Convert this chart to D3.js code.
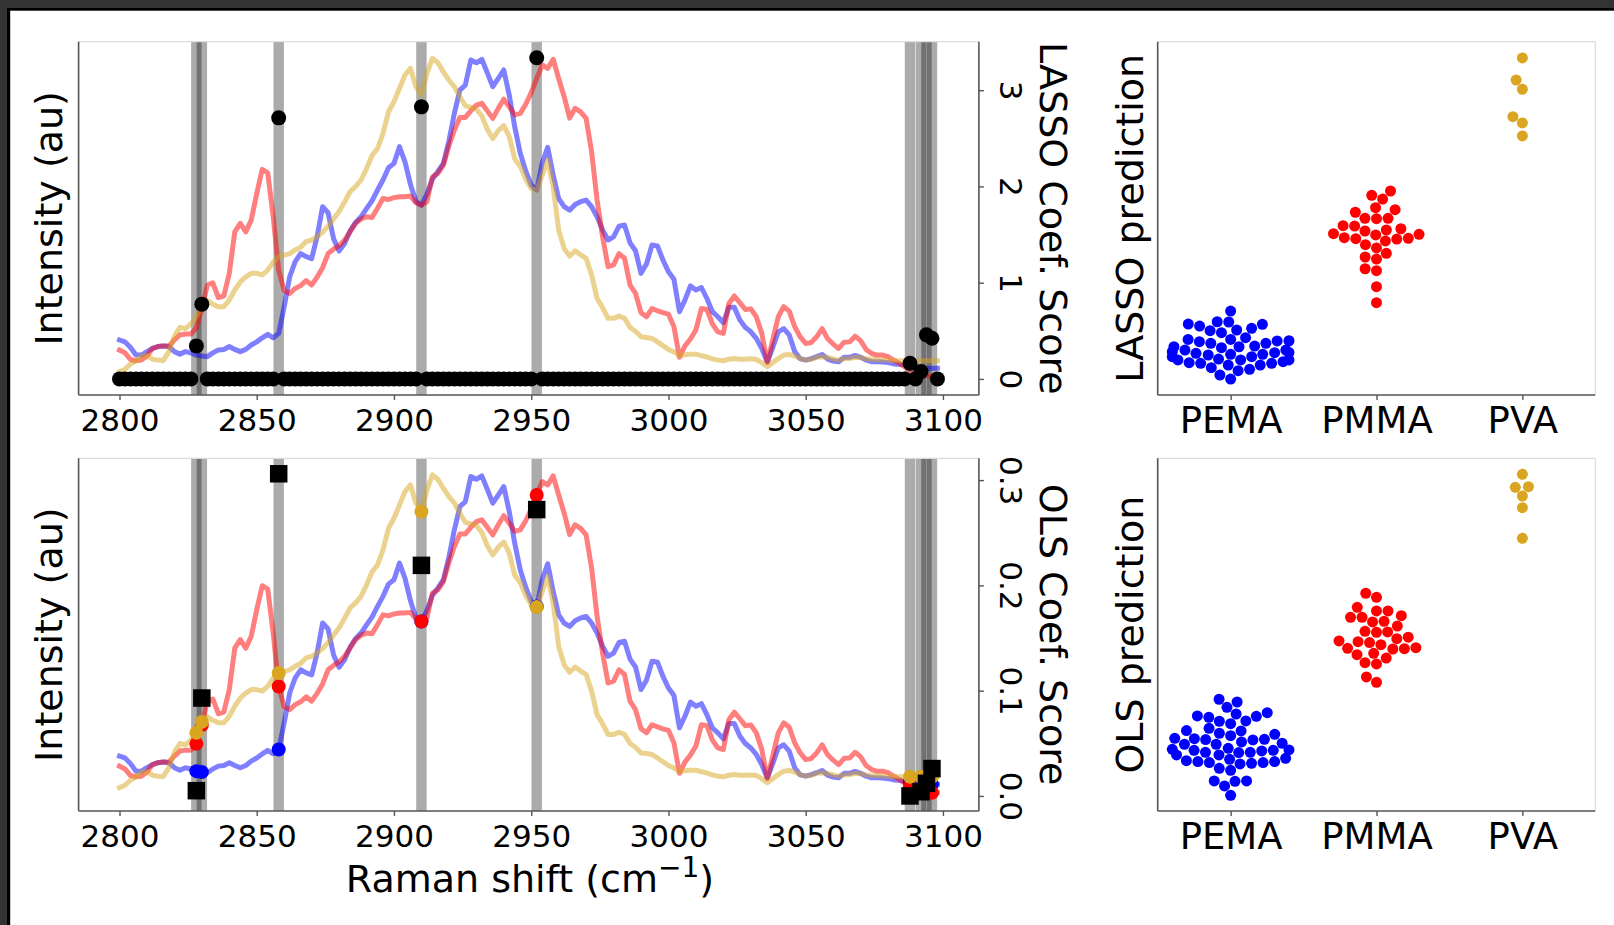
<!DOCTYPE html>
<html>
<head>
<meta charset="utf-8">
<script src="https://cdn.jsdelivr.net/npm/d3@7"></script>
<style>
  body { margin: 0; background: #fff; }
  svg { display: block; }
  text { font-family: "DejaVu Sans", sans-serif; fill: #000; }
</style>
</head>
<body>
<svg id="fig" width="1614" height="925"></svg>
<script>
// ---- Raman spectra (mean, arbitrary intensity units) ----
const wavenumber = [
  2800,2802,2804,2806,2808,2810,2812,2814,2816,2818,
  2820,2822,2824,2826,2828,2830,2832,2834,2836,2838,
  2840,2842,2844,2846,2848,2850,2852,2854,2856,2858,
  2860,2862,2864,2866,2868,2870,2872,2874,2876,2878,
  2880,2882,2884,2886,2888,2890,2892,2894,2896,2898,
  2900,2902,2904,2906,2908,2910,2912,2914,2916,2918,
  2920,2922,2924,2926,2928,2930,2932,2934,2936,2938,
  2940,2942,2944,2946,2948,2950,2952,2954,2956,2958,
  2960,2962,2964,2966,2968,2970,2972,2974,2976,2978,
  2980,2982,2984,2986,2988,2990,2992,2994,2996,2998,
  3000,3002,3004,3006,3008,3010,3012,3014,3016,3018,
  3020,3022,3024,3026,3028,3030,3032,3034,3036,3038,
  3040,3042,3044,3046,3048,3050,3052,3054,3056,3058,
  3060,3062,3064,3066,3068,3070,3072,3074,3076,3078,
  3080,3082,3084,3086,3088,3090,3092,3094,3096,3098
];
const pemaSpectrum = [
  10.1,9.5,7.7,5.3,5.3,6.4,7.4,8.0,8.2,8.0,
  6.4,5.6,6.4,6.0,5.3,5.0,4.8,6.0,6.9,7.1,
  8.0,7.1,6.4,7.1,8.5,9.5,10.8,11.9,10.8,12.2,
  20.7,30.2,35.0,37.6,36.6,36.0,43.0,52.5,50.6,42.3,
  38.4,40.8,44.8,47.5,49.3,51.9,54.4,57.8,61.0,64.9,
  66.3,71.6,66.8,59.6,54.2,53.0,56.5,61.3,63.7,66.3,
  73.4,82.2,89.6,91.2,99.2,98.3,99.4,95.1,90.7,93.3,
  96.0,88.0,77.9,69.5,63.9,59.4,57.8,66.3,71.4,62.6,
  55.1,52.5,51.4,53.2,54.1,54.6,52.5,49.3,45.1,41.9,
  42.9,46.3,46.7,41.0,38.5,31.3,34.3,40.3,40.0,35.5,
  31.8,29.4,19.1,22.8,27.3,26.0,26.8,23.3,19.1,17.5,
  15.6,20.5,20.5,16.5,14.1,12.7,10.6,7.4,3.1,7.7,
  12.7,13.7,11.7,6.4,4.1,3.7,4.2,4.8,5.5,4.0,
  3.4,3.2,4.6,4.6,5.2,4.6,3.7,3.2,3.2,3.1,
  2.9,2.5,2.4,2.1,1.8,1.5,1.2,1.1,1.1,1.1
];
const pmmaSpectrum = [
  6.9,6.0,3.9,3.5,3.7,5.0,7.4,8.0,8.2,8.2,
  10.1,11.7,12.0,12.0,14.0,20.0,27.6,28.3,23.6,24.1,
  31.3,44.5,47.2,44.5,48.3,56.7,64.4,63.3,49.3,32.3,
  25.8,24.9,26.5,27.4,29.0,27.6,30.1,33.1,37.6,39.0,
  40.1,41.9,44.5,47.2,48.6,49.3,49.1,52.0,55.1,54.8,
  55.4,55.7,55.7,55.9,53.8,53.0,54.1,62.0,63.1,65.7,
  71.8,76.9,80.9,80.9,83.0,84.8,85.4,83.0,80.6,83.8,
  86.7,84.3,81.7,82.2,85.1,88.8,93.3,97.6,96.5,99.4,
  93.3,87.5,80.7,83.8,82.7,80.6,70.0,54.6,42.9,33.4,
  34.0,37.6,36.1,27.6,24.9,18.8,17.5,20.1,19.4,18.8,
  18.3,14.3,4.6,8.2,10.4,13.3,20.1,19.8,15.2,12.7,
  12.2,21.7,24.1,22.0,19.8,20.0,17.5,12.2,2.9,10.1,
  17.5,20.7,19.3,14.3,11.1,9.0,9.3,11.1,13.7,10.5,
  8.8,7.4,9.4,9.5,11.3,9.9,7.1,5.8,5.3,5.3,
  4.8,3.7,2.7,1.6,0.5,0.0,-0.6,-1.2,-1.6,-1.6
];
const pvaSpectrum = [
  0.0,0.8,2.4,3.5,5.0,5.1,4.0,3.7,3.6,6.4,
  11.3,14.1,13.7,15.2,17.5,21.0,22.6,21.5,20.7,20.7,
  22.8,26.0,28.6,30.2,31.3,31.3,30.8,32.3,34.9,36.6,
  37.1,37.6,38.7,39.6,41.4,41.9,42.9,44.4,46.3,48.6,
  51.0,54.0,57.3,58.9,61.0,64.6,68.8,71.0,75.8,82.7,
  85.9,90.1,94.4,96.5,90.7,88.0,94.9,99.7,98.3,95.4,
  92.8,90.7,87.5,84.6,84.1,83.6,81.4,77.1,74.2,76.7,
  78.3,74.8,67.7,65.4,61.3,58.3,57.6,62.6,67.3,58.9,
  45.1,39.2,36.8,38.5,37.2,36.1,30.8,23.3,20.4,17.0,
  17.0,17.7,17.0,14.1,12.9,11.1,10.9,10.6,9.5,8.3,
  7.1,6.3,5.2,5.4,5.6,5.6,5.1,4.7,4.1,3.7,
  3.5,4.0,4.2,4.0,4.0,4.1,3.9,2.9,1.6,2.9,
  4.2,5.3,5.5,5.0,4.2,3.8,3.9,4.6,4.8,4.6,
  4.1,3.7,4.1,4.2,4.6,4.5,4.1,3.9,3.9,3.8,
  3.7,3.6,3.5,3.5,3.5,3.5,3.5,3.5,3.5,3.5
];

// ---- selected features and their regression coefficients ----
const selectedShift = [2828, 2830, 2858, 2910, 2952, 3088, 3092, 3094, 3096];
const lassoCoef     = [0.343, 0.777, 2.713, 2.827, 3.337, 0.163, 0.076, 0.458, 0.423];
const olsCoef       = [0.005, 0.093, 0.306, 0.219, 0.272, 0.000, 0.004, 0.012, 0.026];

// ---- per-sample predictions ----
const categories = ["PEMA", "PMMA", "PVA"];
const lassoPredPEMA = [0.345,0.250,0.230,0.248,0.227,0.212,0.177,0.192,0.171,0.153,0.109,0.082,0.074,0.094,0.080,0.094,0.035,0.021,0.029,-0.015,-0.038,-0.021,-0.038,-0.024,0.029,-0.029,-0.088,-0.112,-0.118,-0.088,-0.156,-0.133,-0.080,-0.133,-0.118,-0.103,-0.221,-0.183,-0.171,-0.257,-0.044,0.059,0.000,-0.059,0.059,0.000,-0.059,-0.088];
const lassoPredPMMA = [1.407,1.336,1.369,1.259,1.219,1.242,1.165,1.162,1.165,1.100,1.073,1.053,1.097,1.062,1.024,0.988,0.982,0.965,1.018,0.985,0.994,1.029,0.932,0.856,0.805,0.903,0.823,0.719,0.702,0.560,0.419];
const lassoPredPVA  = [2.584,2.389,2.307,2.065,2.009,1.894];
const olsPredPEMA = [0.461,0.436,0.388,0.339,0.309,0.327,0.306,0.297,0.261,0.264,0.239,0.197,0.173,0.176,0.152,0.142,0.130,0.097,0.094,0.103,0.073,0.052,0.061,0.015,0.052,-0.003,-0.009,-0.021,-0.024,-0.021,-0.003,-0.045,-0.045,-0.097,-0.106,-0.115,-0.127,-0.076,-0.121,-0.115,-0.106,-0.085,-0.185,-0.167,-0.282,-0.285,-0.282,-0.327,-0.412,0.106,0.006,0.091,0.000];
const olsPredPMMA = [1.425,1.388,1.297,1.264,1.264,1.206,1.206,1.221,1.164,1.170,1.127,1.073,1.070,1.079,1.025,1.012,0.991,0.976,0.985,0.957,0.930,0.921,0.918,0.924,0.866,0.879,0.836,0.794,0.782,0.664,0.615];
const olsPredPVA  = [2.506,2.394,2.388,2.309,2.203,1.924];

// ---- ticks ----
const shiftTicks = [2800, 2850, 2900, 2950, 3000, 3050, 3100];
const lassoTicks = [0, 1, 2, 3];
const olsTicks = [0.0, 0.1, 0.2, 0.3];

// ---- styling ----
const seriesColor = { PEMA: "#0000ff", PMMA: "#ff0000", PVA: "#daa520" };
const spineDark = "#555", spineLight = "#dcdcdc";
const TICK_FS = 31, LABEL_FS = 38, CAT_FS = 37;

const svg = d3.select("#fig");

// window frame
svg.append("rect").attr("x", 0).attr("y", 0).attr("width", 1614).attr("height", 8).attr("fill", "#333");
svg.append("rect").attr("x", 0).attr("y", 8).attr("width", 1614).attr("height", 2.7).attr("fill", "#000");
svg.append("rect").attr("x", 0).attr("y", 0).attr("width", 7).attr("height", 925).attr("fill", "#333");
svg.append("rect").attr("x", 7).attr("y", 8).attr("width", 3.2).attr("height", 917).attr("fill", "#000");

const specX = [78.6, 978.9];
const swarmX = [1157.7, 1595.3];
const rowTop = [41.7, 395];
const rowBot = [458.3, 811];

function spines(g, x0, x1, y0, y1, rightDark) {
  g.append("line").attr("x1", x0).attr("x2", x1).attr("y1", y0).attr("y2", y0)
    .attr("stroke", spineLight).attr("stroke-width", 1.2);
  g.append("line").attr("x1", x1).attr("x2", x1).attr("y1", y0).attr("y2", y1)
    .attr("stroke", rightDark ? spineDark : spineLight).attr("stroke-width", rightDark ? 1.6 : 1.2);
  g.append("line").attr("x1", x0).attr("x2", x0).attr("y1", y0).attr("y2", y1)
    .attr("stroke", spineDark).attr("stroke-width", 1.6);
  g.append("line").attr("x1", x0).attr("x2", x1).attr("y1", y1).attr("y2", y1)
    .attr("stroke", spineDark).attr("stroke-width", 1.6);
}

function styleAxis(ax, fs) {
  ax.attr("font-family", null).attr("font-size", null);
  ax.select(".domain").remove();
  ax.selectAll(".tick line").attr("stroke", spineDark).attr("stroke-width", 1.4);
  ax.selectAll(".tick text").attr("font-size", fs).attr("fill", "#000");
}

function spectrumPanel(rows, model) {
  const g = svg.append("g");
  const x = d3.scaleLinear().domain([2785.1, 3113.1]).range(specX);
  const yI = d3.scaleLinear().domain([-7.4, 105]).range([rows[1], rows[0]]);
  const yC = model === "LASSO"
    ? d3.scaleLinear().domain([-0.167, 3.504]).range([rows[1], rows[0]])
    : d3.scaleLinear().domain([-0.0143, 0.3207]).range([rows[1], rows[0]]);

  const clipId = "clip-" + model;
  g.append("clipPath").attr("id", clipId).append("rect")
    .attr("x", specX[0]).attr("y", rows[0]).attr("width", specX[1] - specX[0]).attr("height", rows[1] - rows[0]);
  const plot = g.append("g").attr("clip-path", `url(#${clipId})`);

  // shaded bands marking the selected shifts
  plot.selectAll("rect.band").data(selectedShift).join("rect").attr("class", "band")
    .attr("x", d => x(d - 1.9)).attr("width", d => x(d + 1.9) - x(d - 1.9))
    .attr("y", rows[0]).attr("height", rows[1] - rows[0])
    .attr("fill", "#000").attr("fill-opacity", 0.33);

  const spectra = [
    { name: "PEMA", values: pemaSpectrum },
    { name: "PMMA", values: pmmaSpectrum },
    { name: "PVA", values: pvaSpectrum }
  ];
  const line = d3.line().x((d, i) => x(wavenumber[i])).y(d => yI(d));
  plot.selectAll("path.spec").data(spectra).join("path").attr("class", "spec")
    .attr("d", d => line(d.values))
    .attr("fill", "none").attr("stroke", d => seriesColor[d.name])
    .attr("stroke-opacity", 0.5).attr("stroke-width", 5)
    .attr("stroke-linejoin", "round").attr("stroke-linecap", "square");

  if (model === "LASSO") {
    const coefAt = wavenumber.map(w => {
      const k = selectedShift.indexOf(w);
      return k >= 0 ? lassoCoef[k] : 0;
    });
    g.selectAll("circle.coef").data(wavenumber).join("circle").attr("class", "coef")
      .attr("cx", d => x(d)).attr("cy", (d, i) => yC(coefAt[i])).attr("r", 7.5).attr("fill", "#000");
  } else {
    const idx = selectedShift.map(w => wavenumber.indexOf(w));
    [["PEMA", pemaSpectrum], ["PMMA", pmmaSpectrum], ["PVA", pvaSpectrum]].forEach(([name, vals]) => {
      g.selectAll(null).data(idx).join("circle")
        .attr("cx", i => x(wavenumber[i])).attr("cy", i => yI(vals[i]))
        .attr("r", 7).attr("fill", seriesColor[name]);
    });
    const s = 17.5;
    g.selectAll("rect.coef").data(selectedShift).join("rect").attr("class", "coef")
      .attr("x", d => x(d) - s / 2).attr("y", (d, i) => yC(olsCoef[i]) - s / 2)
      .attr("width", s).attr("height", s).attr("fill", "#000");
  }

  spines(g, specX[0], specX[1], rows[0], rows[1], true);

  const ax = g.append("g").attr("transform", `translate(0,${rows[1]})`)
    .call(d3.axisBottom(x).tickValues(shiftTicks).tickSize(5).tickPadding(8.5).tickFormat(d3.format("d")));
  styleAxis(ax, TICK_FS);

  const ar = g.append("g").attr("transform", `translate(${specX[1]},0)`)
    .call(d3.axisRight(yC).tickValues(model === "LASSO" ? lassoTicks : olsTicks).tickSize(5)
      .tickFormat(model === "LASSO" ? d3.format("d") : d3.format(".1f")));
  styleAxis(ar, TICK_FS);
  ar.selectAll(".tick text").attr("x", null).attr("dy", null)
    .attr("text-anchor", "middle").attr("transform", "translate(20.6,0) rotate(90)");

  const cy = (rows[0] + rows[1]) / 2;
  g.append("text").attr("transform", `translate(62,${cy}) rotate(-90)`)
    .attr("text-anchor", "middle").attr("font-size", LABEL_FS).text("Intensity (au)");
  g.append("text").attr("transform", `translate(1040,${cy}) rotate(90)`)
    .attr("text-anchor", "middle").attr("font-size", LABEL_FS).text(model + " Coef. Score");
  return x;
}

spectrumPanel(rowTop, "LASSO");
spectrumPanel(rowBot, "OLS");

// x label under the lower spectrum panel
const xl = svg.append("text").attr("x", 530).attr("y", 892).attr("text-anchor", "middle").attr("font-size", LABEL_FS);
xl.append("tspan").text("Raman shift (cm");
xl.append("tspan").attr("dy", -15).attr("font-size", 28).text("\u22121");
xl.append("tspan").attr("dy", 15).text(")");

// ---- swarm panels ----
function beeswarm(values, cx, yScale, r, half) {
  const pts = values.map(v => ({ v, y: yScale(v), x: cx })).sort((a, b) => a.v - b.v);
  const placed = [];
  for (const p of pts) {
    const nb = placed.filter(q => Math.abs(p.y - q.y) < 2 * r);
    const cand = [cx];
    for (const q of nb) {
      const dy = p.y - q.y;
      const dx = Math.sqrt(Math.max(4 * r * r - dy * dy, 0)) * 1.05;
      cand.push(q.x - dx, q.x + dx);
    }
    cand.sort((a, b) => Math.abs(a - cx) - Math.abs(b - cx));
    const ok = cand.find(c => nb.every(q => (c - q.x) ** 2 + (p.y - q.y) ** 2 >= 4 * r * r - 1e-6));
    p.x = ok === undefined ? cx : ok;
    placed.push(p);
  }
  placed.forEach(p => {
    if (p.x < cx - half) p.x = cx - half;
    if (p.x > cx + half) p.x = cx + half;
  });
  return placed;
}

function swarmPanel(rows, domain, groups, label) {
  const g = svg.append("g");
  const xc = d3.scaleLinear().domain([-0.5, 2.5]).range(swarmX);
  const y = d3.scaleLinear().domain(domain).range([rows[1], rows[0]]);
  spines(g, swarmX[0], swarmX[1], rows[0], rows[1], false);
  const r = 5.5;
  const half = xc(0.4) - xc(0);
  groups.forEach((vals, k) => {
    const pts = beeswarm(vals, xc(k), y, r, half);
    g.selectAll(null).data(pts).join("circle")
      .attr("cx", d => d.x).attr("cy", d => d.y).attr("r", r)
      .attr("fill", seriesColor[categories[k]]);
  });
  const ax = g.append("g").attr("transform", `translate(0,${rows[1]})`)
    .call(d3.axisBottom(xc).tickValues([0, 1, 2]).tickSize(5).tickPadding(7.2).tickFormat(i => categories[i]));
  styleAxis(ax, CAT_FS);
  g.append("text").attr("transform", `translate(1143,${(rows[0] + rows[1]) / 2}) rotate(-90)`)
    .attr("text-anchor", "middle").attr("font-size", LABEL_FS).text(label);
}

swarmPanel(rowTop, [-0.398, 2.728], [lassoPredPEMA, lassoPredPMMA, lassoPredPVA], "LASSO prediction");
swarmPanel(rowBot, [-0.555, 2.652], [olsPredPEMA, olsPredPMMA, olsPredPVA], "OLS prediction");
</script>
</body>
</html>
